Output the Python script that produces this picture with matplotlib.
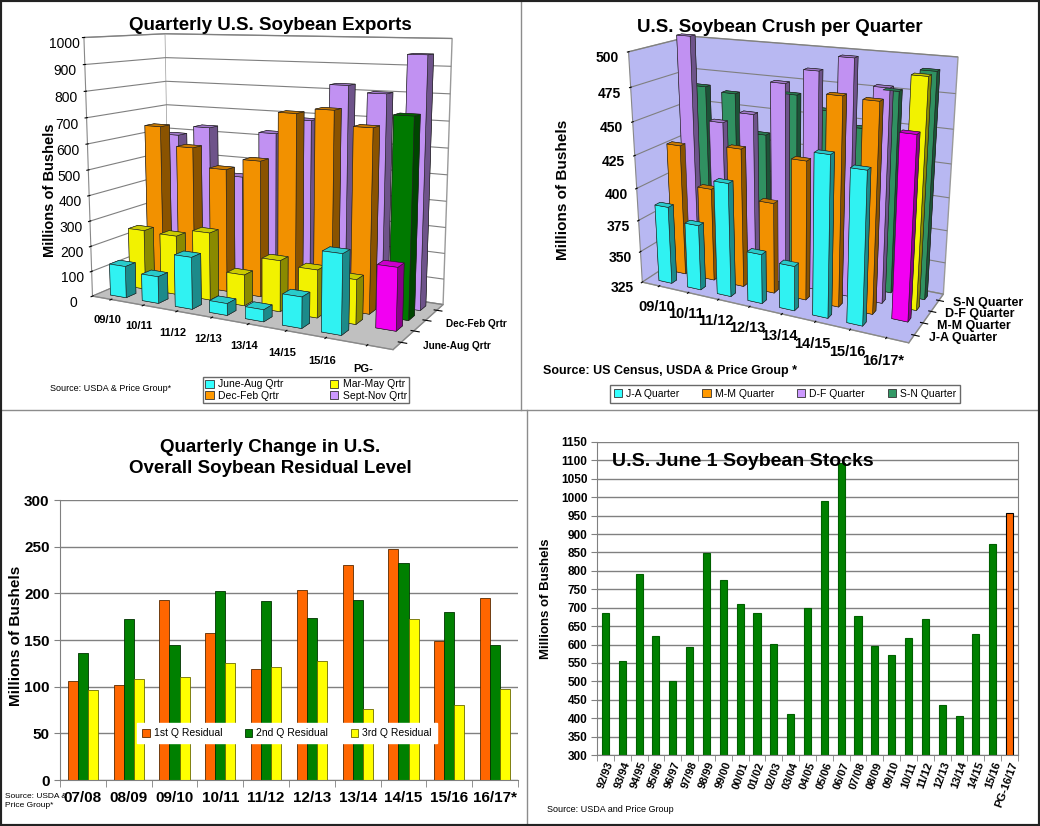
import numpy as np
import matplotlib
matplotlib.use('Agg')
import matplotlib.pyplot as plt
from matplotlib.patches import Patch
from matplotlib.lines import Line2D
from matplotlib.colors import LightSource

plt.rcParams['font.family'] = ['Liberation Sans', 'DejaVu Sans']

W, H = 1040, 826

# ---- quarterly exports, million bushels (front row first)
exp_years = ['09/10', '10/11', '11/12', '12/13', '13/14', '14/15', '15/16', 'PG-']
exp_series = ['June-Aug Qrtr', 'Mar-May Qrtr', 'Dec-Feb Qrtr', 'Sept-Nov Qrtr']
exp_jun_aug = [125, 105, 200, 45, 45, 115, 290, None]
exp_mar_may = [240, 235, 265, 120, 195, 180, 165, 230]
exp_dec_feb = [640, 565, 490, 535, 725, 745, 690, 740]
exp_sep_nov = [590, 630, 440, 625, 685, 825, 800, 945]
exp_colors = ['#33ffff', '#ffff00', '#ff9900', '#cc99ff']
exp_pg_colors = ['#33ffff', '#ff00ff', '#008000', '#cc99ff']

# ---- quarterly crush, million bushels (front row first)
crush_years = ['09/10', '10/11', '11/12', '12/13', '13/14', '14/15', '15/16', '16/17*']
crush_series = ['J-A Quarter', 'M-M Quarter', 'D-F Quarter', 'S-N Quarter']
crush_ja = [386, 376, 412, 363, 359, 443, 436, None]
crush_mm = [428, 398, 432, 395, 430, 478, 477, 458]
crush_df = [506, 444, 453, 478, 489, 500, 482, 492]
crush_sn = [465, 462, 433, 466, 457, 447, 476, 492]
crush_colors = ['#33ffff', '#ff9900', '#cc99ff', '#339966']
crush_last_colors = ['#33ffff', '#ff00ff', '#ffff00', '#339966']

# ---- quarterly residual
res_years = ['07/08', '08/09', '09/10', '10/11', '11/12', '12/13', '13/14', '14/15', '15/16', '16/17*']
res_q1 = [106, 102, 193, 158, 119, 204, 230, 248, 149, 195]
res_q2 = [136, 172, 145, 202, 192, 174, 193, 233, 180, 145]
res_q3 = [96, 108, 110, 125, 121, 127, 76, 173, 80, 98]

# ---- June 1 stocks
stk_years = ['92/93', '93/94', '94/95', '95/96', '96/97', '97/98', '98/99', '99/00',
             '00/01', '01/02', '02/03', '03/04', '04/05', '05/06', '06/07', '07/08',
             '08/09', '09/10', '10/11', '11/12', '12/13', '13/14', '14/15', '15/16',
             'PG-16/17']
stk_vals = [685, 555, 792, 622, 500, 594, 849, 774, 709, 686, 602, 411, 699, 991,
            1094, 677, 596, 571, 619, 668, 435, 405, 628, 873, 957]

light = LightSource(azdeg=200, altdeg=25)


def fx(px):
    return px / W


def fy(py):
    return 1 - py / H


def bars3d(ax, rows, colors, last_colors, zmin, bw, bd):
    xs, ys, dz, cs = [], [], [], []
    n = len(rows[0])
    for j, vals in enumerate(rows):
        for i, v in enumerate(vals):
            if v is None:
                continue
            xs.append(i)
            ys.append(j)
            dz.append(v - zmin)
            cs.append(last_colors[j] if i == n - 1 else colors[j])
    xs = np.array(xs, float)
    ys = np.array(ys, float)
    ax.bar3d(xs - bw / 2, ys - bd / 2, np.full(len(xs), zmin), bw, bd, dz,
             color=cs, shade=True, lightsource=light,
             edgecolor='#222222', linewidth=0.4)


def style3d(ax, wall, floor, focal):
    ax.set_proj_type('persp', focal_length=focal)
    ax.xaxis.set_pane_color(wall)
    ax.yaxis.set_pane_color(wall)
    ax.zaxis.set_pane_color(floor)
    for a in (ax.xaxis, ax.yaxis, ax.zaxis):
        a.pane.set_edgecolor('#9a9a9a')
        a.line.set_color('#888888')
        a.line.set_linewidth(0.8)
        a.label.set_visible(False)
        a.get_offset_text().set_visible(False)
    ax.xaxis._axinfo['grid']['linewidth'] = 0
    ax.yaxis._axinfo['grid']['linewidth'] = 0
    ax.zaxis._axinfo['grid']['color'] = '#7f7f7f'
    ax.zaxis._axinfo['grid']['linewidth'] = 0.8
    ax.zaxis.set_ticks_position('lower')
    ax.set_facecolor('none')


def series_labels(ax, names, xpos, zpos, size):
    # depth-axis names written next to the right edge of the floor
    ax.set_yticks(range(len(names)), [''] * len(names))
    for j, name in enumerate(names):
        if name:
            ax.text(xpos, j, zpos, name, ha='left', va='center', fontsize=size,
                    fontweight='bold')


fig = plt.figure(figsize=(W / 100, H / 100), dpi=100)

# ================= panel 1 : exports =================
ax1 = fig.add_axes([0.0, 0.55, 0.50, 0.47], projection='3d')
style3d(ax1, (1, 1, 1, 1), '#c0c0c0', 0.45)
bars3d(ax1, [exp_jun_aug, exp_mar_may, exp_dec_feb, exp_sep_nov],
       exp_colors, exp_pg_colors, 0, 0.5, 0.5)
ax1.view_init(elev=10, azim=-62)
ax1.set_box_aspect((345, 150, 278), zoom=1.12)
ax1.set_xlim(-0.6, 7.6)
ax1.set_ylim(-0.6, 3.6)
ax1.set_zlim(0, 1000)
ax1.set_xticks(range(len(exp_years)), exp_years, fontsize=8, fontweight='bold')
series_labels(ax1, [exp_series[0], '', exp_series[2], ''], 8.1, 0, 7.2)
ax1.set_zticks(range(0, 1001, 100), [str(v) for v in range(0, 1001, 100)], fontsize=10)
ax1.tick_params(axis='x', pad=0)
ax1.tick_params(axis='z', pad=0)
fig.text(fx(270), fy(25), 'Quarterly U.S. Soybean Exports', ha='center', va='center',
         fontsize=13.5, fontweight='bold')
fig.text(fx(50), fy(190), 'Millions of Bushels', rotation=90, ha='center', va='center',
         fontsize=10.5, fontweight='bold')
fig.text(fx(50), fy(389), 'Source: USDA & Price Group*', ha='left', va='center', fontsize=6.5)
h1 = [Patch(facecolor=c, edgecolor='#333333', lw=0.6) for c in exp_colors]
fig.legend([h1[0], h1[2], h1[1], h1[3]],
           [exp_series[0], exp_series[2], exp_series[1], exp_series[3]],
           ncol=2, loc='center', bbox_to_anchor=(fx(306), fy(390)), fontsize=7.5,
           frameon=True, fancybox=False, edgecolor='#444444', handlelength=0.8,
           handleheight=0.8, borderpad=0.25, labelspacing=0.15, columnspacing=4.5,
           handletextpad=0.4)

# ================= panel 2 : crush =================
ax2 = fig.add_axes([0.52, 0.545, 0.47, 0.47], projection='3d')
style3d(ax2, '#b8b8f2', '#b8b8f2', 0.4)
bars3d(ax2, [crush_ja, crush_mm, crush_df, crush_sn],
       crush_colors, crush_last_colors, 325, 0.45, 0.35)
ax2.view_init(elev=18, azim=-64)
ax2.set_box_aspect((330, 125, 274), zoom=1.0)
ax2.set_xlim(-0.6, 7.6)
ax2.set_ylim(-0.6, 3.6)
ax2.set_zlim(325, 500)
ax2.set_xticks(range(len(crush_years)), crush_years, fontsize=10.5, fontweight='bold')
series_labels(ax2, crush_series, 8.0, 325, 9)
ax2.set_zticks(range(325, 501, 25), [str(v) for v in range(325, 501, 25)],
               fontsize=10, fontweight='bold')
ax2.tick_params(axis='x', pad=0)
ax2.tick_params(axis='z', pad=2)
fig.text(fx(780), fy(27), 'U.S. Soybean Crush per Quarter', ha='center', va='center',
         fontsize=13.5, fontweight='bold')
fig.text(fx(563), fy(190), 'Millions of Bushels', rotation=90, ha='center', va='center',
         fontsize=11, fontweight='bold')
fig.text(fx(543), fy(371), 'Source: US Census, USDA & Price Group *', ha='left',
         va='center', fontsize=9, fontweight='bold')
h2 = [Patch(facecolor=c, edgecolor='#333333', lw=0.6) for c in crush_colors]
fig.legend(h2, crush_series, ncol=4, loc='center', bbox_to_anchor=(fx(785), fy(394)),
           fontsize=7.5, frameon=True, fancybox=False, edgecolor='#444444',
           handlelength=0.8, handleheight=0.8, borderpad=0.35, columnspacing=2.2,
           handletextpad=0.4)

# ================= panel 3 : residual =================
ax3 = fig.add_axes([fx(60), fy(780), fx(458), 280 / H])
x = np.arange(len(res_years))
w = 0.22
ax3.bar(x - w, res_q1, w, color='#ff6600', edgecolor='#5a2a00', lw=0.6, label='1st Q Residual')
ax3.bar(x, res_q2, w, color='#008000', edgecolor='#003300', lw=0.6, label='2nd Q Residual')
ax3.bar(x + w, res_q3, w, color='#ffff00', edgecolor='#6b6b00', lw=0.6, label='3rd Q Residual')
ax3.set_xlim(-0.5, len(res_years) - 0.5)
ax3.set_ylim(0, 300)
ax3.set_yticks(range(0, 301, 50))
ax3.yaxis.grid(True, color='#808080', lw=1)
ax3.set_axisbelow(True)
ax3.set_xticks(x, res_years)
ax3.set_xticks(np.arange(-0.5, len(res_years)), minor=True)
ax3.tick_params(axis='x', which='major', length=0, labelsize=11, pad=8)
ax3.tick_params(axis='x', which='minor', length=5, color='#808080')
ax3.tick_params(axis='y', labelsize=11, length=4, color='#808080')
for t in ax3.get_xticklabels() + ax3.get_yticklabels():
    t.set_fontweight('bold')
for s in ('top', 'right'):
    ax3.spines[s].set_visible(False)
for s in ('left', 'bottom'):
    ax3.spines[s].set_color('#808080')
ax3.legend(ncol=3, loc='lower left', bbox_to_anchor=(0.157, 0.112, 0.677, 0.08),
           mode='expand', fontsize=7.5, frameon=True, fancybox=False, framealpha=1,
           edgecolor='white', handlelength=0.7, handleheight=0.8, borderpad=0.5,
           handletextpad=0.4)
fig.text(fx(16), fy(636), 'Millions of Bushels', rotation=90, ha='center', va='center',
         fontsize=11, fontweight='bold')
fig.text(fx(270), fy(458), 'Quarterly Change in U.S.\nOverall Soybean Residual Level',
         ha='center', va='center', fontsize=13.5, fontweight='bold', linespacing=1.25)
fig.text(fx(5), fy(801), 'Source: USDA &\nPrice Group*', ha='left', va='center',
         fontsize=6, linespacing=1.3)

# ================= panel 4 : June 1 stocks =================
ax4 = fig.add_axes([fx(597), fy(755), fx(421), 313 / H])
xs = np.arange(len(stk_vals))
cols = ['#008000'] * (len(stk_vals) - 1) + ['#ff6600']
edges = ['#006000'] * (len(stk_vals) - 1) + ['#000000']
ax4.bar(xs, np.array(stk_vals) - 300, 0.42, bottom=300, color=cols, edgecolor=edges, lw=0.8)
ax4.set_xlim(-0.5, len(stk_vals) - 0.5)
ax4.set_ylim(300, 1150)
ax4.set_yticks(range(300, 1151, 50))
ax4.yaxis.grid(True, color='#808080', lw=1)
ax4.set_axisbelow(True)
ax4.set_xticks(xs, stk_years, rotation=70, ha='right', rotation_mode='anchor')
ax4.set_xticks(np.arange(-0.5, len(stk_vals)), minor=True)
ax4.tick_params(axis='x', which='major', length=0, labelsize=8, pad=4)
ax4.tick_params(axis='x', which='minor', length=4, color='#808080')
ax4.tick_params(axis='y', labelsize=8.5, length=4, color='#808080', pad=3)
for t in ax4.get_xticklabels() + ax4.get_yticklabels():
    t.set_fontweight('bold')
for s in ax4.spines.values():
    s.set_color('#808080')
ax4.spines['top'].set_visible(False)
ax4.set_ylabel('Millions of Bushels', fontsize=9.5, fontweight='bold', labelpad=6)
ax4.text(0.035, 0.965, 'U.S. June 1 Soybean Stocks', transform=ax4.transAxes,
         ha='left', va='top', fontsize=14, fontweight='bold')
fig.text(fx(547), fy(810), 'Source: USDA and Price Group', ha='left', va='center',
         fontsize=6.5)

# ================= panel frames =================
grey = '#8c8c8c'
fig.add_artist(Line2D([fx(521), fx(521)], [fy(0), fy(410)], color=grey, lw=1))
fig.add_artist(Line2D([fx(527), fx(527)], [fy(410), fy(826)], color=grey, lw=1))
fig.add_artist(Line2D([0, 1], [fy(410), fy(410)], color=grey, lw=1))
fig.add_artist(Line2D([0, 0, 1, 1, 0], [0, 1, 1, 0, 0], color='#222222', lw=3,
                      transform=fig.transFigure))

fig.savefig('out.png', dpi=100)
